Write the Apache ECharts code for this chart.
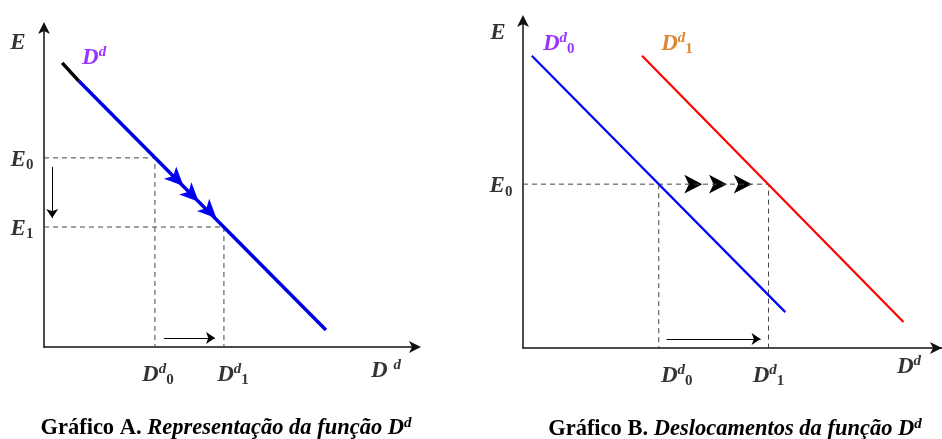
<!DOCTYPE html>
<html>
<head>
<meta charset="utf-8">
<script src="https://cdn.jsdelivr.net/npm/echarts@6/dist/echarts.min.js"></script>
<style>
  html, body { margin: 0; padding: 0; background: #fff; }
  #chart { width: 942px; height: 439px; }
</style>
</head>
<body>
<div id="chart"></div>
<script>
// Gráfico A: função Dd (black head, then blue), shift along the curve
const curveHeadA = [[4.9, 88.8], [9.4, 83.1]];
const curveA = [[9.4, 83.1], [76.0, 5.3]];
const eLevelsA = [59.1, 37.5];   // E0, E1
const dLevelsA = [29.9, 48.5];   // Dd0, Dd1
const flowArrowsA = [[37.6, 50.3], [41.7, 45.4], [46.5, 40.2]];
const shiftDownA = [[2.2, 56.3], [2.2, 40.3]];
const shiftRightA = [[32.3, 2.8], [46.1, 2.8]];

// Gráfico B: deslocamento da curva
const curveB0 = [[2.1, 88.8], [62.6, 10.9]];
const curveB1 = [[28.4, 88.8], [90.8, 7.9]];
const eLevelB = 49.8;            // E0
const dLevelsB = [32.4, 58.6];   // Dd0, Dd1
const flowArrowsB = [[42.8, 49.8], [48.7, 49.8], [54.6, 49.8]];
const shiftRightB = [[34.3, 2.7], [56.7, 2.7]];

const captionA = ['Gráfico A', 'Representação da função D', 'd'];
const captionB = ['Gráfico B', 'Deslocamentos da função D', 'd'];

const serif = 'Liberation Serif';
const purple = '#7f00ff';
const orange = '#d26900';

const mk = (color) => ({
  m: { fontFamily: serif, fontWeight: 'bold', fontStyle: 'italic', fontSize: 23, color: color, lineHeight: 28 },
  sp: { fontFamily: serif, fontWeight: 'bold', fontStyle: 'italic', fontSize: 15, color: color, padding: [0, 0, 11, 0] },
  sb: { fontFamily: serif, fontWeight: 'bold', fontSize: 15, color: color, padding: [11, 0, 0, 0] }
});
const rBlack = mk('#000');
const rPurple = mk(purple);
const rOrange = mk(orange);

const capRich = {
  b: { fontFamily: serif, fontWeight: 'bold', fontSize: 22.5, color: '#000' },
  bi: { fontFamily: serif, fontWeight: 'bold', fontStyle: 'italic', fontSize: 22.5, color: '#000' },
  sp: { fontFamily: serif, fontWeight: 'bold', fontStyle: 'italic', fontSize: 15, color: '#000', padding: [0, 0, 10, 0] }
};

// label helper: anchor on data, text centered at anchor + offset
const lbl = (value, text, offset, rich) => ({
  value: value,
  label: { show: true, position: 'inside', offset: offset, formatter: text, rich: rich || rBlack }
});

const axisCommon = (gi, off) => ({
  gridIndex: gi,
  type: 'value',
  min: 0,
  max: 100,
  axisLine: {
    show: true,
    symbol: ['none', 'arrow'],
    symbolSize: [9, 12],
    symbolOffset: [0, off],
    lineStyle: { color: '#111', width: 1.5 }
  },
  axisTick: { show: false },
  axisLabel: { show: false },
  splitLine: { show: false }
});

const dash = { type: 'line', symbol: 'none', silent: true, lineStyle: { color: '#444', width: 1, type: [5, 4] } };

const chart = echarts.init(document.getElementById('chart'));
chart.setOption({
  animation: false,
  backgroundColor: '#fff',
  title: [
    {
      text: '{b|' + captionA[0] + '}{b|. }{bi|' + captionA[1] + '}{sp|' + captionA[2] + '}',
      left: 221, top: 411, textAlign: 'center',
      textStyle: { rich: capRich }
    },
    {
      text: '{b|' + captionB[0] + '}{b|. }{bi|' + captionB[1] + '}{sp|' + captionB[2] + '}',
      left: 730, top: 412, textAlign: 'center',
      textStyle: { rich: capRich }
    }
  ],
  grid: [
    { left: 44, top: 27, width: 371, height: 320 },
    { left: 523, top: 19, width: 423, height: 329 }
  ],
  xAxis: [axisCommon(0, 6), axisCommon(1, 0)],
  yAxis: [axisCommon(0, 5), axisCommon(1, 4)],
  series: [
    // ---- A ----
    Object.assign({}, dash, { xAxisIndex: 0, yAxisIndex: 0, data: [[0, eLevelsA[0]], [dLevelsA[0], eLevelsA[0]], [dLevelsA[0], 0]] }),
    Object.assign({}, dash, { xAxisIndex: 0, yAxisIndex: 0, data: [[0, eLevelsA[1]], [dLevelsA[1], eLevelsA[1]], [dLevelsA[1], 0]] }),
    { type: 'line', xAxisIndex: 0, yAxisIndex: 0, symbol: 'none', data: curveHeadA, lineStyle: { color: '#000', width: 3.5 } },
    { type: 'line', xAxisIndex: 0, yAxisIndex: 0, symbol: 'none', data: curveA, lineStyle: { color: '#0000e6', width: 3.5 } },
    {
      type: 'scatter', xAxisIndex: 0, yAxisIndex: 0, data: flowArrowsA,
      symbol: 'arrow', symbolSize: [13, 19], symbolRotate: -135, itemStyle: { color: '#0000ff', opacity: 1 }
    },
    {
      type: 'lines', coordinateSystem: 'cartesian2d', xAxisIndex: 0, yAxisIndex: 0,
      symbol: ['none', 'arrow'], symbolSize: 9,
      lineStyle: { color: '#000', width: 1, opacity: 1 },
      data: [{ coords: shiftDownA }, { coords: shiftRightA }]
    },
    {
      type: 'scatter', xAxisIndex: 0, yAxisIndex: 0, symbolSize: 0, clip: false, silent: true,
      data: [
        lbl([0, 95], '{m|E}', [-26, 0]),
        lbl([0, eLevelsA[0]], '{m|E}{sb|0}', [-22, 2]),
        lbl([0, eLevelsA[1]], '{m|E}{sb|1}', [-22, 2]),
        lbl([dLevelsA[0], 0], '{m|D}{sp|d}{sb|0}', [3, 28]),
        lbl([dLevelsA[1], 0], '{m|D}{sp|d}{sb|1}', [9, 28]),
        lbl([100, 0], '{m|D }{sp|d}', [-29, 24]),
        lbl(curveHeadA[0], '{m|D}{sp|d}', [32, -5], rPurple)
      ]
    },
    // ---- B ----
    Object.assign({}, dash, { xAxisIndex: 1, yAxisIndex: 1, data: [[0, eLevelB], [dLevelsB[1], eLevelB], [dLevelsB[1], 0]] }),
    Object.assign({}, dash, { xAxisIndex: 1, yAxisIndex: 1, data: [[dLevelsB[0], eLevelB], [dLevelsB[0], 0]] }),
    { type: 'line', xAxisIndex: 1, yAxisIndex: 1, symbol: 'none', data: curveB0, lineStyle: { color: '#0000ff', width: 2.2 } },
    { type: 'line', xAxisIndex: 1, yAxisIndex: 1, symbol: 'none', data: curveB1, lineStyle: { color: '#ff0000', width: 2.2 } },
    {
      type: 'scatter', xAxisIndex: 1, yAxisIndex: 1, data: flowArrowsB,
      symbol: 'arrow', symbolSize: [14, 18], symbolRotate: -90, itemStyle: { color: '#000', opacity: 1 }
    },
    {
      type: 'lines', coordinateSystem: 'cartesian2d', xAxisIndex: 1, yAxisIndex: 1,
      symbol: ['none', 'arrow'], symbolSize: 9,
      lineStyle: { color: '#000', width: 1, opacity: 1 },
      data: [{ coords: shiftRightB }]
    },
    {
      type: 'scatter', xAxisIndex: 1, yAxisIndex: 1, symbolSize: 0, clip: false, silent: true,
      data: [
        lbl([0, 95], '{m|E}', [-25, -2]),
        lbl([0, eLevelB], '{m|E}{sb|0}', [-22, 2]),
        lbl([dLevelsB[0], 0], '{m|D}{sp|d}{sb|0}', [18, 28]),
        lbl([dLevelsB[1], 0], '{m|D}{sp|d}{sb|1}', [0, 28]),
        lbl([100, 0], '{m|D}{sp|d}', [-33, 19]),
        lbl(curveB0[0], '{m|D}{sp|d}{sb|0}', [27, -12], rPurple),
        lbl(curveB1[0], '{m|D}{sp|d}{sb|1}', [35, -12], rOrange)
      ]
    }
  ]
});
</script>
</body>
</html>
